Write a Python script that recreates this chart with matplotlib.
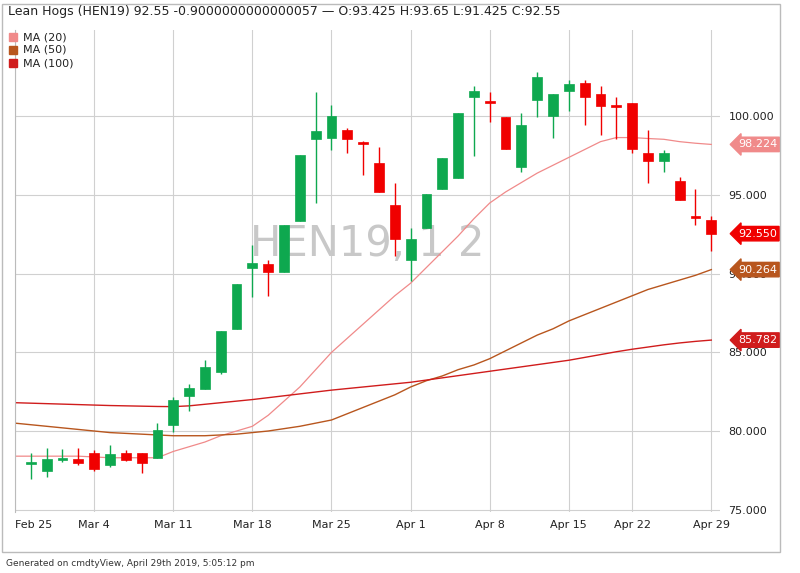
import matplotlib
matplotlib.use("Agg")
import matplotlib.pyplot as plt
from matplotlib.patches import Rectangle

# trading-day index 0 = Feb 25 (no candle), 44 = Apr 29
day_idx = list(range(1, 45))
opens = [77.93, 77.48, 78.18, 78.24, 78.63, 77.86, 78.63, 78.63, 78.31, 80.41, 82.25, 82.70, 83.78, 86.51,
         90.39, 90.59, 90.08, 93.38, 98.60, 98.66, 99.11, 98.28, 97.07, 94.40, 90.90, 92.94, 95.36, 96.06,
         101.21, 100.89, 99.94, 96.76, 101.02, 100.00, 101.59, 102.16, 101.46, 100.64, 100.83, 97.71, 97.14,
         95.87, 93.58, 93.425]
closes = [77.95, 78.24, 78.31, 77.99, 77.61, 78.56, 78.18, 77.99, 80.09, 82.00, 82.76, 84.10, 86.39, 89.38,
          90.71, 90.08, 93.07, 97.58, 99.05, 100.00, 98.60, 98.26, 95.23, 92.24, 92.24, 95.10, 97.33, 100.25,
          101.59, 100.87, 97.96, 99.49, 102.48, 101.40, 102.04, 101.21, 100.64, 100.62, 97.96, 97.20, 97.65,
          94.66, 93.56, 92.55]
highs = [78.63, 78.94, 78.88, 78.94, 78.82, 79.13, 78.82, 78.63, 80.53, 82.19, 83.02, 84.54, 86.39, 89.38,
         91.86, 90.90, 93.07, 97.58, 101.53, 100.70, 99.30, 98.41, 98.09, 95.74, 92.88, 95.10, 97.33, 100.25,
         101.97, 101.53, 99.94, 100.25, 102.80, 101.40, 102.29, 102.35, 101.97, 101.21, 100.83, 99.11, 97.90,
         96.18, 95.36, 93.65]
lows = [76.97, 77.10, 78.05, 77.86, 77.48, 77.74, 78.12, 77.35, 78.31, 79.96, 81.30, 82.70, 83.65, 86.51,
        88.49, 88.61, 90.08, 93.38, 94.53, 97.84, 97.71, 96.25, 95.23, 91.16, 89.57, 92.94, 95.36, 96.06,
        97.46, 99.62, 97.96, 96.44, 99.94, 98.66, 100.38, 99.49, 98.85, 98.60, 97.65, 95.80, 96.50,
        94.66, 93.07, 91.425]
ma20 = [78.4, 78.4, 78.4, 78.4, 78.4, 78.35, 78.3, 78.3, 78.3, 78.3, 78.7, 79.0, 79.3, 79.7, 80.0,
        80.3, 81.0, 81.9, 82.8, 83.9, 85.0, 85.9, 86.8, 87.7, 88.6, 89.4, 90.4, 91.4, 92.4, 93.5,
        94.5, 95.2, 95.8, 96.4, 96.9, 97.4, 97.9, 98.4, 98.66, 98.66, 98.6, 98.55, 98.4, 98.3, 98.224]
ma50 = [80.5, 80.4, 80.3, 80.2, 80.1, 80.0, 79.9, 79.85, 79.8, 79.75, 79.7, 79.7, 79.7, 79.75, 79.8,
        79.9, 80.0, 80.15, 80.3, 80.5, 80.7, 81.1, 81.5, 81.9, 82.3, 82.8, 83.2, 83.5, 83.9, 84.2,
        84.6, 85.1, 85.6, 86.1, 86.5, 87.0, 87.4, 87.8, 88.2, 88.6, 89.0, 89.3, 89.6, 89.9, 90.264]
ma100 = [81.8, 81.77, 81.74, 81.71, 81.68, 81.65, 81.62, 81.6, 81.58, 81.56, 81.55, 81.6, 81.7, 81.8, 81.9,
         82.0, 82.12, 82.24, 82.36, 82.48, 82.6, 82.7, 82.8, 82.9, 83.0, 83.1, 83.24, 83.38, 83.52, 83.66,
         83.8, 83.94, 84.08, 84.22, 84.36, 84.5, 84.68, 84.86, 85.04, 85.2, 85.34, 85.48, 85.6, 85.7, 85.782]
tick_idx = [0, 5, 10, 15, 20, 25, 30, 35, 39, 44]
tick_labels = ["Feb 25", "Mar 4", "Mar 11", "Mar 18", "Mar 25", "Apr 1", "Apr 8", "Apr 15", "Apr 22", "Apr 29"]
y_ticks = [75, 80, 85, 90, 95, 100]

GREEN = "#0ea84f"
RED = "#f00000"
C20, C50, C100 = "#f08a8a", "#b8561e", "#d01c1c"

fig = plt.figure(figsize=(8, 5.73), dpi=100)
fig.patch.set_facecolor("white")
ax = fig.add_axes([15/800, 1 - 512/573, 705/800, 482/573])
ax.set_xlim(0, 44.55)
ax.set_ylim(74.85, 105.5)

xs = list(range(len(ma20)))
ax.plot(xs, ma20, color=C20, lw=0.9, zorder=2)
ax.plot(xs, ma50, color=C50, lw=1.0, zorder=2)
ax.plot(xs, ma100, color=C100, lw=1.0, zorder=2)

w = 0.62
for x, o, h, l, c in zip(day_idx, opens, highs, lows, closes):
    col = GREEN if c >= o else RED
    ax.vlines(x, l, h, color=col, lw=1.0, zorder=3)
    bot, top = min(o, c), max(o, c)
    hgt = max(top - bot, 0.12)
    ax.add_patch(Rectangle((x - w/2, bot), w, hgt, facecolor=col, edgecolor=col, lw=0.5, zorder=4))

ax.set_xticks(tick_idx)
ax.set_xticklabels(tick_labels, fontsize=8, color="#222")
ax.get_xticklabels()[0].set_ha("left")
ax.set_yticks(y_ticks)
ax.set_yticklabels([f"{v:.3f}" for v in y_ticks], fontsize=8, color="#222")
ax.yaxis.tick_right()
ax.tick_params(length=0, pad=6)
ax.grid(True, color="#d0d0d0", lw=0.8)
ax.set_axisbelow(True)
for s in ax.spines.values():
    s.set_visible(False)
ax.spines["left"].set_visible(True)
ax.spines["left"].set_color("#bbbbbb")

ax.text(0.5, 0.555, "HEN19, 1 2", transform=ax.transAxes, fontsize=30, color="#c8c8c8",
        ha="center", va="center", zorder=1)

# value tags
for val, col in [(98.224, C20), (92.55, RED), (90.264, C50), (85.782, C100)]:
    ax.annotate(f"{val:.3f}", xy=(1.0, val), xycoords=("axes fraction", "data"),
                xytext=(13, 0), textcoords="offset points", fontsize=8, color="white",
                va="center", ha="left", zorder=6, annotation_clip=False,
                bbox=dict(boxstyle="larrow,pad=0.2", fc=col, ec=col))

fig.text(8/800, 1 - 12/573, "Lean Hogs (HEN19) 92.55 -0.9000000000000057 \u2014 O:93.425 H:93.65 L:91.425 C:92.55",
         fontsize=9, color="#222", va="center")
for i, (lab, col) in enumerate([("MA (20)", C20), ("MA (50)", C50), ("MA (100)", C100)]):
    yy = 1 - (37 + 13*i)/573
    fig.patches.append(Rectangle((9/800, yy - 4/573), 8/800, 8/573, transform=fig.transFigure,
                                 facecolor=col, edgecolor=col))
    fig.text(23/800, yy, lab, fontsize=8, color="#222", va="center")

fig.text(6/800, 1 - 563/573, "Generated on cmdtyView, April 29th 2019, 5:05:12 pm", fontsize=6.5,
         color="#333", va="center")
fig.patches.append(Rectangle((2/800, 1 - 552/573), 778/800, 548/573, transform=fig.transFigure,
                             fill=False, edgecolor="#bbbbbb", lw=1))
fig.savefig("out.png", dpi=100)
